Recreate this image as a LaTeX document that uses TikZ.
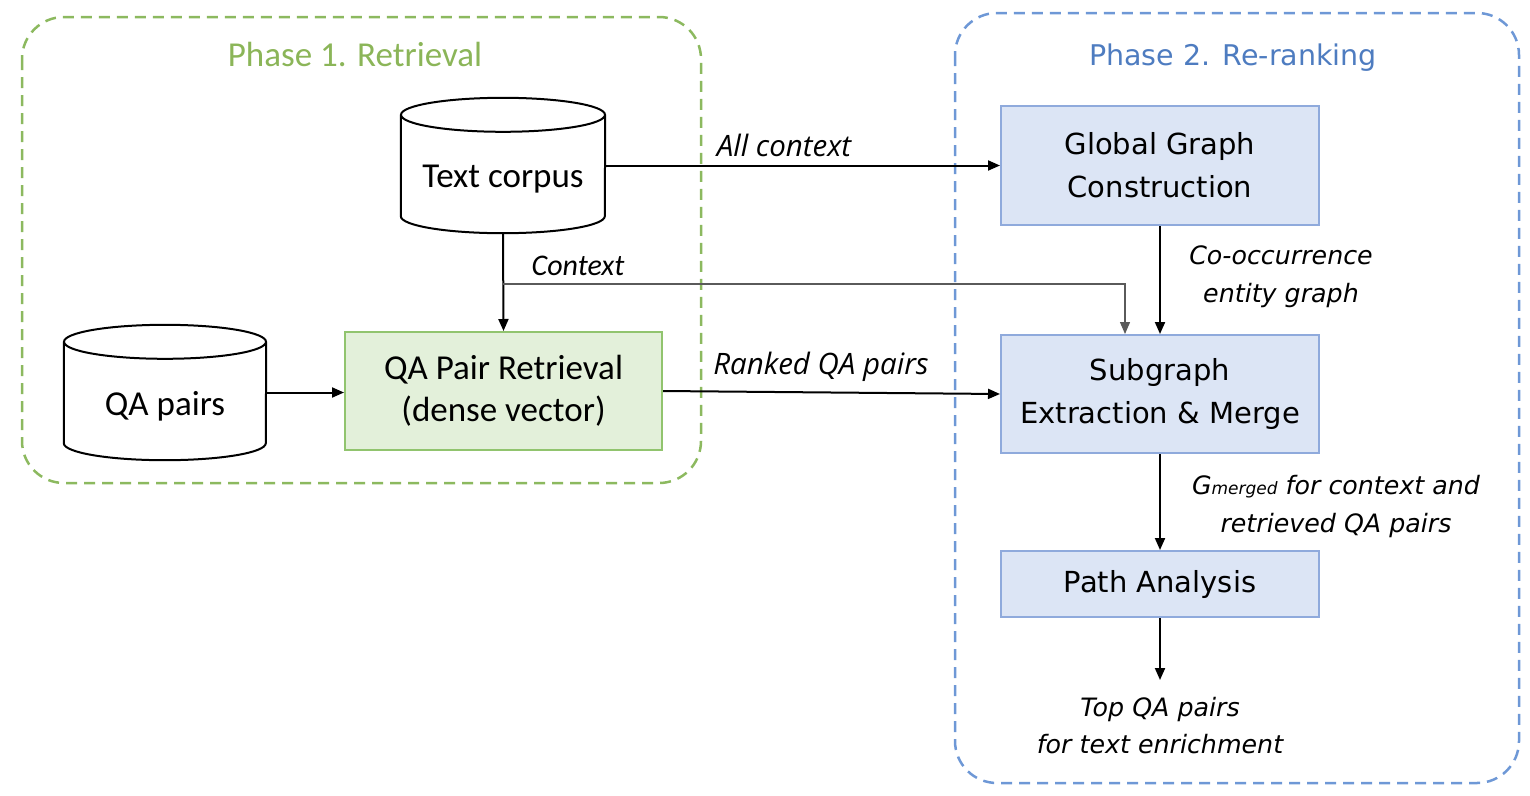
\documentclass[tikz,border=0pt]{standalone}
\usepackage{fontspec}
\setmainfont{Carlito}
\newfontfamily\verd{DejaVu Sans}
\newfontfamily\osans{Open Sans}
\usetikzlibrary{arrows.meta,calc}
\definecolor{gline}{RGB}{140,185,95}
\definecolor{gtitle}{RGB}{139,181,88}
\definecolor{gfill}{RGB}{227,240,218}
\definecolor{gborder}{RGB}{145,196,110}
\definecolor{bline}{RGB}{110,152,214}
\definecolor{btitle}{RGB}{78,124,192}
\definecolor{bfill}{RGB}{220,229,245}
\definecolor{bborder}{RGB}{143,170,220}
\definecolor{ctxline}{RGB}{90,90,90}
\tikzset{
  phasebox/.style={line width=2.5pt,dash pattern=on 11pt off 7pt,rounded corners=42pt},
  cylshape/.style={draw=none,minimum width=204pt,minimum height=135pt,inner sep=0pt},
  cylline/.style={line width=2pt,fill=white},
  cyltext/.style={font=\fontsize{35}{42}\selectfont,inner sep=0pt},
  greenbox/.style={draw=gborder,fill=gfill,line width=2pt,minimum width=317pt,minimum height=118pt,align=center,font=\fontsize{35}{42}\selectfont},
  bluebox/.style={draw=bborder,fill=bfill,line width=2pt,minimum width=318pt,align=center,font=\verd\fontsize{29}{43}\selectfont},
  arr/.style={line width=2pt,-{Triangle[length=12pt,width=10pt]}},
  ctxarr/.style={line width=1.3pt,draw=ctxline,-{Triangle[length=12pt,width=10pt]}},
  lbl/.style={font=\osans\itshape\fontsize{29.5}{34}\selectfont,inner sep=0pt},
  rlbl/.style={font=\verd\itshape\fontsize{25.3}{38}\selectfont,align=center,inner sep=0pt},
}
\begin{document}
\begin{tikzpicture}[x=1pt,y=-1pt]
\useasboundingbox (0,0) rectangle (1530,795);
% phase frames
\draw[phasebox,draw=gline] (22,17) rectangle (701,483);
\draw[phasebox,draw=bline] (955,13) rectangle (1519,783);
\node[font=\fontsize{35}{42}\selectfont,text=gtitle] (t1) at (355,54) {Phase 1. Retrieval};
\node[font=\verd\fontsize{28.5}{34}\selectfont,text=btitle] (t2) at (1233,58) {Phase 2. Re-ranking};
% text corpus cylinder
\node[cylshape] (tc) at (503,165.5) {};
\draw[cylline] ($(tc.north west)+(0,17)$) -- ($(tc.south west)+(0,-17)$) arc[start angle=180,end angle=360,x radius=102pt,y radius=17pt] -- ($(tc.north east)+(0,17)$);
\draw[cylline] ($(tc.north)+(0,17)$) ellipse[x radius=102pt,y radius=17pt];
\node[cyltext] (tct) at (503,179) {Text corpus};
% QA pairs cylinder
\node[cylshape,minimum width=202pt] (qp) at (165,392.5) {};
\draw[cylline] ($(qp.north west)+(0,17)$) -- ($(qp.south west)+(0,-17)$) arc[start angle=180,end angle=360,x radius=101pt,y radius=17pt] -- ($(qp.north east)+(0,17)$);
\draw[cylline] ($(qp.north)+(0,17)$) ellipse[x radius=101pt,y radius=17pt];
\node[cyltext] (qpt) at (165,406) {QA pairs};
% boxes
\node[greenbox] (qpr) at (503.5,391) {QA Pair Retrieval\\(dense vector)};
\node[bluebox,minimum height=119pt] (ggc) at (1160,165.5) {Global Graph\\Construction};
\node[bluebox,minimum height=118pt] (sem) at (1160,394) {Subgraph\\Extraction \& Merge};
\node[bluebox,minimum height=66pt] (pa) at (1160,584) {Path Analysis};
\coordinate (out) at (1160,680);
\coordinate (cj) at (503,284);
% connectors
\draw[arr] (tc.east) -- (ggc.west);
\draw[arr] (tc.south) -- (qpr.north);
\draw[ctxarr] (cj) -| ($(sem.north)+(-35,0)$);
\draw[arr] (qp.east) -- (qp.east -| qpr.west);
\draw[arr] (qpr.east) -- (sem.west);
\draw[arr] (ggc.south) -- (sem.north);
\draw[arr] (sem.south) -- (pa.north);
\draw[arr] (pa.south) -- (out);
% labels
\node[lbl] (l1) at (784,145) {All context};
\node[font=\itshape\fontsize{30}{36}\selectfont,inner sep=0pt] (l2) at (578,266) {Context};
\node[lbl] (l3) at (821,367) {Ranked QA pairs};
\node[rlbl] (l4) at (1281,277) {Co-occurrence\\entity graph};
\node[rlbl] (l5) at (1336,507) {G{\fontsize{17}{20}\selectfont merged} for context and\\retrieved QA pairs};
\node[rlbl,font=\verd\itshape\fontsize{25.3}{37}\selectfont] (l6) at (1160,726) {Top QA pairs\\for text enrichment};
\end{tikzpicture}
\end{document}
